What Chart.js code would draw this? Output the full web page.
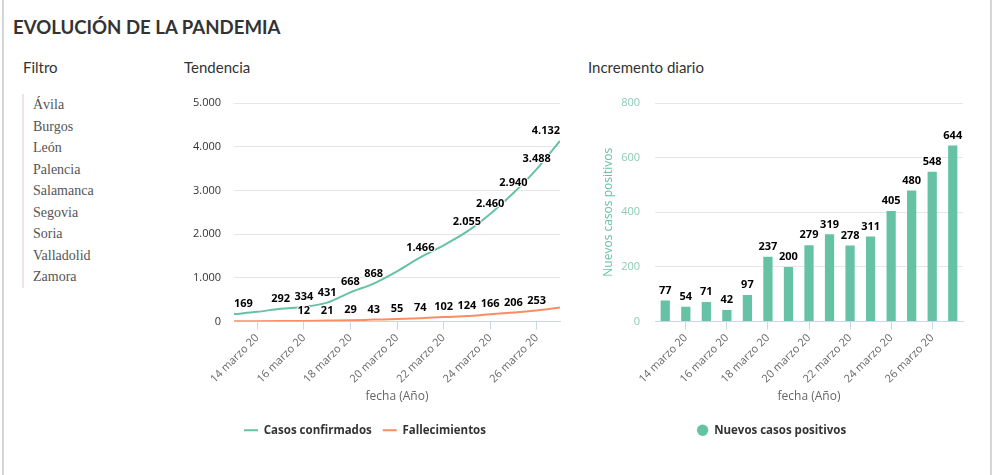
<!DOCTYPE html>
<html lang="es">
<head>
<meta charset="utf-8">
<title>Evolución de la pandemia</title>
<script src="https://cdn.jsdelivr.net/npm/chart.js@4.4.1/dist/chart.umd.min.js"></script>
<style>
  body { margin: 0; background: #fff; font-family: Lato, sans-serif; }
  #marco { position: absolute; left: 2px; top: 0; width: 986px; height: 475px;
           border-left: 2px solid #d6d6d6; border-right: 2px solid #d6d6d6; }
  h1 { position: absolute; left: 13px; top: 16px; margin: 0; font-size: 18.6px; font-weight: 700;
       line-height: 1.2; color: #333; }
  h2 { position: absolute; top: 58px; margin: 0; font-size: 15px; font-weight: 400;
       line-height: 1.2; color: #333; }
  #filtro { position: absolute; left: 22px; top: 94px; margin: 0; padding: 0 0 0 9px;
            list-style: none; border-left: 2px solid #eee5e7;
            font-family: "Liberation Serif", serif; font-size: 14px; line-height: 21.5px; color: #555; }
  .grafico { position: absolute; top: 90px; width: 405px; height: 356px; }
</style>
</head>
<body>
<div id="marco"></div>
<h1>EVOLUCIÓN DE LA PANDEMIA</h1>
<h2 style="left:23px">Filtro</h2>
<h2 style="left:184px">Tendencia</h2>
<h2 style="left:588px">Incremento diario</h2>
<ul id="filtro"></ul>
<div class="grafico" style="left:170px"><canvas id="tendencia"></canvas></div>
<div class="grafico" style="left:580px"><canvas id="incremento"></canvas></div>

<script>
// datos: del 13 al 27 de marzo de 2020
const provincias = ['Ávila', 'Burgos', 'León', 'Palencia', 'Salamanca', 'Segovia', 'Soria', 'Valladolid', 'Zamora'];
const dias = [13, 14, 15, 16, 17, 18, 19, 20, 21, 22, 23, 24, 25, 26, 27];
const mes = 'marzo 20';
const casosConfirmados = [169, 221, 292, 334, 431, 668, 868, 1147, 1466, 1744, 2055, 2460, 2940, 3488, 4132];
const fallecimientos = [3, 6, 9, 12, 21, 29, 43, 55, 74, 102, 124, 166, 206, 253, 320];
const nuevosCasos = [77, 54, 71, 42, 97, 237, 200, 279, 319, 278, 311, 405, 480, 548, 644];
const ticksTendencia = [0, 1000, 2000, 3000, 4000, 5000];
const ticksIncremento = [0, 200, 400, 600, 800];

const verde = '#66c2a5';
const naranja = '#fc8d62';

document.getElementById('filtro').innerHTML = provincias.map(p => '<li>' + p + '</li>').join('');

function formato(n) {
    return String(n).replace(/\B(?=(\d{3})+(?!\d))/g, '.');
}

Chart.defaults.font.family = "'Open Sans', sans-serif";
Chart.defaults.font.size = 11;
Chart.defaults.animation = false;

// etiquetas de valor encima de cada punto / barra (se ocultan si se pisan)
const etiquetas = {
    id: 'etiquetas',
    afterDatasetsDraw(chart, args, opts) {
        const ctx = chart.ctx;
        const area = chart.chartArea;
        const cajas = [];
        ctx.save();
        ctx.font = "bold 11px 'Open Sans'";
        ctx.textAlign = 'center';
        ctx.textBaseline = 'middle';
        ctx.lineJoin = 'round';
        chart.data.datasets.forEach((ds, i) => {
            const meta = chart.getDatasetMeta(i);
            meta.data.forEach((el, j) => {
                const texto = formato(meta.controller.getParsed(j).y);
                const w = ctx.measureText(texto).width;
                const x = Math.min(Math.max(el.x, area.left + w / 2), area.right - w / 2);
                const y = el.y - 10;
                const caja = {l: x - w / 2, r: x + w / 2, t: y - 6.5, b: y + 6.5};
                const choca = opts.ocultar && cajas.some(c =>
                    c.l < caja.r && caja.l < c.r && c.t < caja.b && caja.t < c.b);
                cajas.push(caja);
                if (choca) return;
                ctx.strokeStyle = '#fff';
                ctx.lineWidth = 2;
                ctx.strokeText(texto, x, y);
                ctx.fillStyle = '#000';
                ctx.fillText(texto, x, y);
            });
        });
        ctx.restore();
    }
};

// ancho fijo del eje y, sin el relleno extra que añade Chart.js arriba y abajo
function ajustarEjeY(ancho) {
    return s => { s.width = ancho; s.paddingTop = 0; s.paddingBottom = 0; };
}

new Chart(document.getElementById('tendencia'), {
    type: 'line',
    data: {
        datasets: [{
            label: 'Casos confirmados',
            data: dias.map((d, i) => ({x: d, y: casosConfirmados[i]})),
            borderColor: verde,
            backgroundColor: verde,
            borderWidth: 2,
            pointRadius: 0,
            cubicInterpolationMode: 'monotone'
        }, {
            label: 'Fallecimientos',
            data: dias.map((d, i) => ({x: d, y: fallecimientos[i]})),
            borderColor: naranja,
            backgroundColor: naranja,
            borderWidth: 2,
            pointRadius: 0,
            cubicInterpolationMode: 'monotone'
        }]
    },
    options: {
        responsive: true,
        maintainAspectRatio: false,
        layout: {padding: {top: 13, right: 15, left: 0, bottom: 0}},
        scales: {
            x: {
                type: 'linear',
                min: dias[0],
                max: dias[dias.length - 1],
                afterBuildTicks: s => { s.ticks = s.ticks.filter(t => t.value % 2 === 0); },
                afterFit: s => { s.height = 92; },
                ticks: {stepSize: 1, autoSkip: false, minRotation: 45, maxRotation: 45, color: '#666',
                        padding: 2, callback: v => v + ' ' + mes},
                grid: {drawOnChartArea: false, color: '#ccd6eb', tickLength: 8},
                border: {color: '#ccd6eb'},
                title: {display: true, text: 'fecha (Año)', color: '#666', font: {size: 12}, padding: {bottom: 10}}
            },
            y: {
                min: ticksTendencia[0],
                max: ticksTendencia[ticksTendencia.length - 1],
                afterBuildTicks: s => { s.ticks = ticksTendencia.map(v => ({value: v})); },
                afterFit: ajustarEjeY(64),
                ticks: {color: '#333', padding: 13, callback: v => formato(v)},
                grid: {color: '#e6e6e6', drawTicks: false},
                border: {display: false}
            }
        },
        plugins: {
            legend: {
                position: 'bottom',
                labels: {usePointStyle: true, pointStyle: 'line', pointStyleWidth: 14, color: '#333',
                         font: {size: 11.5, weight: 'bold'}, padding: 11}
            },
            tooltip: {enabled: false},
            etiquetas: {ocultar: true}
        }
    },
    plugins: [etiquetas]
});

new Chart(document.getElementById('incremento'), {
    type: 'bar',
    data: {
        labels: dias.map(d => d + ' ' + mes),
        datasets: [{
            label: 'Nuevos casos positivos',
            data: nuevosCasos,
            backgroundColor: verde,
            borderWidth: 0,
            barPercentage: 0.5,
            categoryPercentage: 0.9
        }]
    },
    options: {
        responsive: true,
        maintainAspectRatio: false,
        layout: {padding: {top: 13, right: 22, left: 0, bottom: 0}},
        scales: {
            x: {
                afterFit: s => { s.height = 92; },
                ticks: {autoSkip: false, minRotation: 45, maxRotation: 45, color: '#666', padding: 2,
                        callback: function (v, i) { return dias[i] % 2 === 0 ? this.getLabelForValue(v) : ''; }},
                grid: {offset: false, drawOnChartArea: false, tickLength: 8,
                       color: c => dias[c.index] % 2 === 0 ? '#ccd6eb' : 'rgba(0,0,0,0)'},
                border: {color: '#ccd6eb'},
                title: {display: true, text: 'fecha (Año)', color: '#666', font: {size: 12}, padding: {bottom: 10}}
            },
            y: {
                min: ticksIncremento[0],
                max: ticksIncremento[ticksIncremento.length - 1],
                afterBuildTicks: s => { s.ticks = ticksIncremento.map(v => ({value: v})); },
                afterFit: ajustarEjeY(75),
                ticks: {color: '#8ccbb4', padding: 15},
                grid: {color: '#e6e6e6', drawTicks: false},
                border: {display: false},
                title: {display: true, text: 'Nuevos casos positivos', color: verde, font: {size: 12},
                        padding: {top: 21}}
            }
        },
        plugins: {
            legend: {
                position: 'bottom',
                labels: {usePointStyle: true, pointStyle: 'circle', boxHeight: 8, color: '#333',
                         font: {size: 11.5, weight: 'bold'}, padding: 11}
            },
            tooltip: {enabled: false},
            etiquetas: {ocultar: false}
        }
    },
    plugins: [etiquetas]
});
</script>
</body>
</html>
